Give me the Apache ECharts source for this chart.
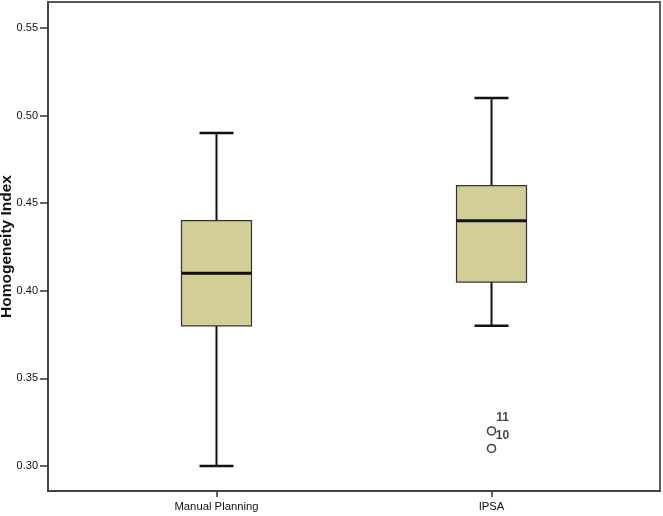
<!DOCTYPE html>
<html>
<head>
<meta charset="utf-8">
<script src="https://cdn.jsdelivr.net/npm/echarts@6/dist/echarts.min.js"></script>
<style>html,body{margin:0;padding:0;background:#fff}#c{width:663px;height:516px}</style>
</head>
<body>
<div id="c"></div>
<script>
// ---- data ----
const categories = ['Manual Planning', 'IPSA'];
const boxMin    = [0.30, 0.38];
const boxQ1     = [0.38, 0.405];
const boxMedian = [0.41, 0.44];
const boxQ3     = [0.44, 0.46];
const boxMax    = [0.49, 0.51];
const outlierCategory = [1, 1];
const outlierValues   = [0.32, 0.31];
const outlierLabels   = ['11', '10'];
const yTicks = [0.30, 0.35, 0.40, 0.45, 0.50, 0.55];
const yTitle = 'Homogeneity Index';

const boxData = categories.map((c, i) => [i, boxMin[i], boxQ1[i], boxMedian[i], boxQ3[i], boxMax[i]]);
const outlierData = outlierValues.map((v, i) => [outlierCategory[i], v, outlierLabels[i]]);

const chart = echarts.init(document.getElementById('c'), null, {renderer: 'canvas'});
const BOX_W = 70, CAP_W = 34;
const FONT = 'Liberation Sans, Arial, sans-serif';

chart.setOption({
  animation: false,
  backgroundColor: '#fff',
  grid: {left: 48, right: 3, top: 2, bottom: 25, containLabel: false, outerBoundsMode: 'none',
    show: true, borderColor: '#5a5a5a', borderWidth: 2, backgroundColor: 'transparent'},
  xAxis: {
    type: 'value', min: -0.6127, max: 1.6127,
    splitLine: {show: false},
    axisLine: {show: true, onZero: false, lineStyle: {color: '#444', width: 2}},
    axisTick: {show: true, inside: false, customValues: [0, 1], length: 6, lineStyle: {color: '#333', width: 1.5}},
    axisLabel: {customValues: [0, 1], formatter: v => categories[Math.round(v)] || '', color: '#111',
      fontFamily: FONT, fontSize: 11.3, margin: 10}
  },
  yAxis: {
    type: 'value', min: 0.28573, max: 0.56484,
    name: yTitle, nameLocation: 'middle', nameGap: 33, nameMoveOverlap: false,
    nameTextStyle: {fontFamily: FONT, fontSize: 15.5, fontWeight: 'bold', color: '#111'},
    splitLine: {show: false},
    axisLine: {show: true, onZero: false, lineStyle: {color: '#444', width: 2}},
    axisTick: {show: true, inside: false, customValues: yTicks, length: 8, lineStyle: {color: '#333', width: 1.5}},
    axisLabel: {customValues: yTicks, formatter: v => v.toFixed(2), color: '#111',
      fontFamily: FONT, fontSize: 11, margin: 10}
  },
  series: [
    {
      type: 'custom',
      data: boxData,
      clip: false,
      renderItem: function (params, api) {
        const x = api.value(0);
        const pMin = api.coord([x, api.value(1)]);
        const pQ1 = api.coord([x, api.value(2)]);
        const pMed = api.coord([x, api.value(3)]);
        const pQ3 = api.coord([x, api.value(4)]);
        const pMax = api.coord([x, api.value(5)]);
        const cx = pMed[0];
        const line = (x1, y1, x2, y2, w) => ({type: 'line', shape: {x1, y1, x2, y2}, style: {stroke: '#111', lineWidth: w}});
        return {
          type: 'group',
          children: [
            line(cx, pMax[1], cx, pQ3[1], 2),
            line(cx, pQ1[1], cx, pMin[1], 2),
            line(cx - CAP_W / 2, pMax[1], cx + CAP_W / 2, pMax[1], 2.5),
            line(cx - CAP_W / 2, pMin[1], cx + CAP_W / 2, pMin[1], 2.5),
            {type: 'rect', shape: {x: cx - BOX_W / 2, y: pQ3[1], width: BOX_W, height: pQ1[1] - pQ3[1]},
              style: {fill: '#d3ce98', stroke: '#333', lineWidth: 1.2}},
            line(cx - BOX_W / 2, pMed[1], cx + BOX_W / 2, pMed[1], 3)
          ]
        };
      }
    },
    {
      type: 'scatter',
      data: outlierData,
      symbol: 'circle',
      symbolSize: 8,
      itemStyle: {color: '#fff', borderColor: '#111', borderWidth: 1.6},
      label: {show: true, position: 'inside', offset: [11, -13], formatter: p => p.value[2],
        color: '#111', fontFamily: FONT, fontSize: 12, fontWeight: 'bold'},
      emphasis: {disabled: true}
    }
  ]
});
</script>
</body>
</html>
